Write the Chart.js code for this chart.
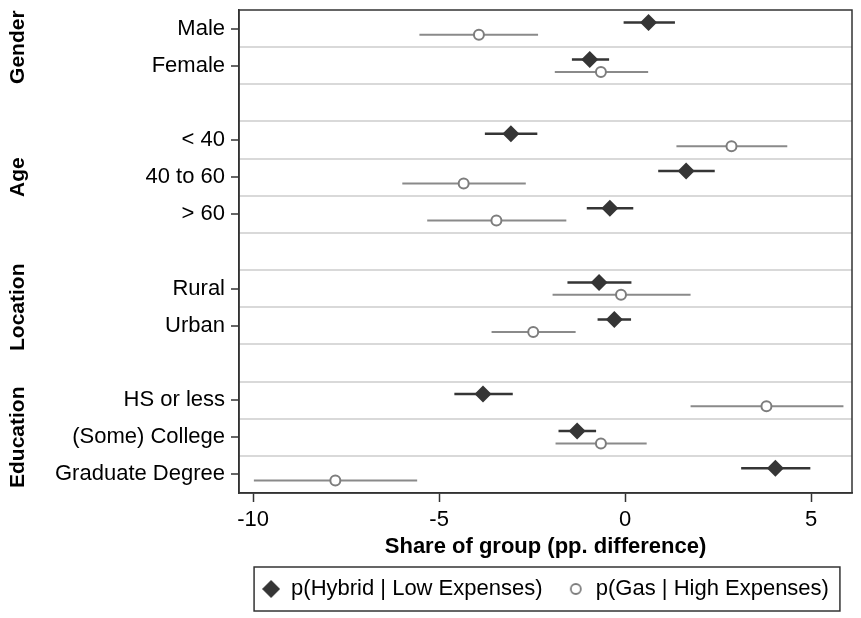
<!DOCTYPE html>
<html>
<head>
<meta charset="utf-8">
<script src="https://cdn.jsdelivr.net/npm/chart.js@4"></script>
<style>
  html, body { margin: 0; padding: 0; background: #fff; }
  #wrap { width: 861px; height: 618px; }
</style>
</head>
<body>
<div id="wrap"><canvas id="chart"></canvas></div>
<script>
// rows from top to bottom, '' = spacer row between groups
const rowLabels = ['Male', 'Female', '', '< 40', '40 to 60', '> 60', '', 'Rural', 'Urban', '', 'HS or less', '(Some) College', 'Graduate Degree'];
const groupNames = ['Gender', 'Age', 'Location', 'Education'];
const groupRows = [0.5, 4, 7.5, 11];

// p(Hybrid | Low Expenses): estimate and 95% CI
const hybridEst = [0.63, -0.95, null, -3.07, 1.64, -0.41, null, -0.70, -0.29, null, -3.82, -1.29, 4.04];
const hybridLo  = [-0.04, -1.43, null, -3.77, 0.89, -1.03, null, -1.55, -0.74, null, -4.59, -1.79, 3.12];
const hybridHi  = [1.34, -0.43, null, -2.36, 2.41, 0.22, null, 0.17, 0.16, null, -3.02, -0.78, 4.98];

// p(Gas | High Expenses): estimate and 95% CI
const gasEst = [-3.93, -0.65, null, 2.86, -4.34, -3.46, null, -0.11, -2.47, null, 3.80, -0.65, -7.79];
const gasLo  = [-5.53, -1.89, null, 1.38, -5.99, -5.32, null, -1.95, -3.59, null, 1.76, -1.87, -9.98];
const gasHi  = [-2.34, 0.62, null, 4.36, -2.67, -1.58, null, 1.76, -1.33, null, 5.87, 0.58, -5.59];

const xTicks = [-10, -5, 0, 5];
const xMin = -10.38;
const xMax = 6.1;

const seriesNames = ['p(Hybrid | Low Expenses)', 'p(Gas | High Expenses)'];

const DARK = '#353535';
const GRAY = '#7d7d7d';
const SHIFT = 1 / 6; // hybrid sits a bit above the row, gas a bit below

Chart.defaults.font.family = '"Liberation Sans", Arial, Helvetica, sans-serif';
Chart.defaults.color = '#000';

function points(est, dy) {
  const out = [];
  est.forEach((v, i) => { if (v !== null) out.push({ x: v, y: i + dy }); });
  return out;
}

function whiskers(lo, hi, dy) {
  const out = [];
  lo.forEach((v, i) => {
    if (v === null) return;
    out.push({ x: v, y: i + dy }, { x: hi[i], y: i + dy }, { x: hi[i], y: null });
  });
  return out;
}

function icon(size, draw) {
  const c = document.createElement('canvas');
  c.width = size; c.height = size;
  draw(c.getContext('2d'), size);
  return c;
}

const diamondIcon = icon(18, (ctx, s) => {
  ctx.fillStyle = DARK;
  ctx.beginPath();
  ctx.moveTo(s / 2, 0); ctx.lineTo(s, s / 2); ctx.lineTo(s / 2, s); ctx.lineTo(0, s / 2);
  ctx.closePath(); ctx.fill();
});
const circleIcon = icon(14, (ctx, s) => {
  ctx.strokeStyle = GRAY; ctx.lineWidth = 1.8;
  ctx.beginPath(); ctx.arc(s / 2, s / 2, 5, 0, Math.PI * 2); ctx.stroke();
});

// group titles on the far left
const groupTitles = {
  id: 'groupTitles',
  afterDraw(chart) {
    const { ctx, scales: { y } } = chart;
    ctx.save();
    ctx.fillStyle = '#000';
    ctx.font = 'bold 21px "Liberation Sans", Arial, sans-serif';
    ctx.textAlign = 'center';
    ctx.textBaseline = 'middle';
    groupNames.forEach((name, i) => {
      ctx.save();
      ctx.translate(18, y.getPixelForValue(groupRows[i]));
      ctx.rotate(-Math.PI / 2);
      ctx.fillText(name, 0, 0);
      ctx.restore();
    });
    ctx.restore();
  }
};

// frame round the plot and round the legend
const frames = {
  id: 'frames',
  afterDraw(chart) {
    const { ctx, chartArea: a, legend } = chart;
    ctx.save();
    ctx.strokeStyle = '#333';
    ctx.lineWidth = 1.5;
    ctx.strokeRect(a.left, a.top, a.right - a.left, a.bottom - a.top);
    const hb = legend.legendHitBoxes;
    if (hb && hb.length) {
      const last = hb[hb.length - 1];
      const l = hb[0].left - 8, r = last.left + last.width + 11;
      const t = hb[0].top - 11, b = hb[0].top + hb[0].height + 11;
      ctx.strokeRect(l, t, r - l, b - t);
    }
    ctx.restore();
  }
};

new Chart(document.getElementById('chart'), {
  type: 'scatter',
  data: {
    datasets: [
      {
        label: seriesNames[0],
        data: points(hybridEst, -SHIFT),
        pointStyle: 'rectRot',
        pointRadius: 8.5,
        backgroundColor: DARK,
        borderColor: DARK,
        borderWidth: 0
      },
      {
        label: seriesNames[1],
        data: points(gasEst, SHIFT),
        pointStyle: 'circle',
        pointRadius: 5,
        backgroundColor: '#fff',
        borderColor: GRAY,
        borderWidth: 2
      },
      {
        label: 'hybrid ci',
        data: whiskers(hybridLo, hybridHi, -SHIFT),
        showLine: true,
        spanGaps: false,
        pointRadius: 0,
        borderColor: DARK,
        borderWidth: 2.5
      },
      {
        label: 'gas ci',
        data: whiskers(gasLo, gasHi, SHIFT),
        showLine: true,
        spanGaps: false,
        pointRadius: 0,
        borderColor: '#8a8a8a',
        borderWidth: 2
      }
    ]
  },
  options: {
    responsive: true,
    maintainAspectRatio: false,
    animation: false,
    layout: { padding: { top: 10, right: 9, bottom: 8, left: 0 } },
    scales: {
      x: {
        type: 'linear',
        min: xMin,
        max: xMax,
        afterBuildTicks: s => { s.ticks = xTicks.map(v => ({ value: v })); },
        afterFit: s => { s.height = 73; s.paddingLeft = 0; s.paddingRight = 0; },
        ticks: { font: { size: 22 }, padding: 5, color: '#000', callback: v => String(v) },
        grid: { drawOnChartArea: false, tickLength: 9, tickColor: '#333', tickWidth: 1.5 },
        border: { color: '#333', width: 1.5 },
        title: {
          display: true,
          text: 'Share of group (pp. difference)',
          font: { size: 22, weight: 'bold' },
          color: '#000',
          padding: { top: 0, bottom: 6 }
        }
      },
      y: {
        type: 'linear',
        reverse: true,
        min: -0.5,
        max: rowLabels.length - 0.5,
        afterBuildTicks: s => {
          s.ticks = [];
          for (let k = -1; k <= rowLabels.length * 2 - 1; k++) s.ticks.push({ value: k / 2 });
        },
        afterFit: s => { s.width = 239; s.paddingTop = 0; s.paddingBottom = 0; },
        ticks: {
          autoSkip: false,
          font: { size: 22 },
          padding: 6,
          color: '#000',
          callback: v => (Number.isInteger(v) ? rowLabels[v] : '')
        },
        grid: {
          lineWidth: 2,
          color: c => {
            const v = c.tick.value;
            if (Number.isInteger(v) || v < 0 || v > rowLabels.length - 1) return 'rgba(0,0,0,0)';
            return '#d9d9d9';
          },
          tickLength: 8,
          tickWidth: 1.5,
          tickColor: c => {
            const v = c.tick.value;
            return Number.isInteger(v) && rowLabels[v] ? '#333' : 'rgba(0,0,0,0)';
          }
        },
        border: { color: '#333', width: 1.5 }
      }
    },
    plugins: {
      tooltip: { enabled: false },
      legend: {
        position: 'bottom',
        fullSize: false,
        labels: {
          usePointStyle: true,
          pointStyleWidth: 18,
          padding: 12,
          color: '#000',
          font: { size: 22 },
          generateLabels: () => [
            { text: seriesNames[0] + '  ', pointStyle: diamondIcon, fillStyle: DARK, strokeStyle: DARK, lineWidth: 0, hidden: false, datasetIndex: 0, fontColor: '#000' },
            { text: seriesNames[1], pointStyle: circleIcon, fillStyle: '#fff', strokeStyle: GRAY, lineWidth: 0, hidden: false, datasetIndex: 1, fontColor: '#000' }
          ]
        }
      }
    }
  },
  plugins: [groupTitles, frames]
});
</script>
</body>
</html>
